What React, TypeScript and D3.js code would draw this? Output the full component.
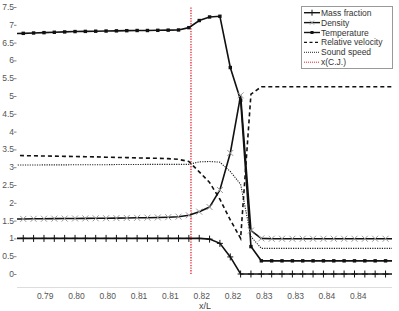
import { useEffect, useRef } from 'react';
import * as d3 from 'd3';

// grid positions along the tube (x/L)
const xs = [
  0.78485, 0.7865, 0.78815, 0.78981, 0.79146, 0.79311, 0.79477, 0.79642, 0.79807, 0.79973,
  0.80138, 0.80303, 0.80469, 0.80634, 0.80799, 0.80965, 0.8113, 0.81295, 0.81461, 0.81626,
  0.81791, 0.81957, 0.82122, 0.82287, 0.82453, 0.82618, 0.82783, 0.82949, 0.83114, 0.83279,
  0.83445, 0.8361, 0.83775, 0.83941, 0.84106, 0.84271, 0.84437, 0.84602,
];

const massFraction = [
  1, 1, 1, 1, 1, 1, 1, 1, 1, 1, 1, 1, 1, 1, 1, 1, 1, 1, 1,
  0.98, 0.86, 0.48, 0,
  0, 0, 0, 0, 0, 0, 0, 0, 0, 0, 0, 0, 0, 0, 0,
];

const density = [
  1.545, 1.547, 1.55, 1.552, 1.555, 1.557, 1.56, 1.562, 1.565, 1.567, 1.57, 1.574, 1.578,
  1.582, 1.588, 1.596, 1.61,
  1.65, 1.75, 1.88, 2.36, 3.4, 5.02, 1.22, 1.0,
  0.99, 0.99, 0.99, 0.99, 0.99, 0.99, 0.99, 0.99, 0.99, 0.99, 0.99, 0.99, 0.99,
];

const temperature = [
  6.75, 6.76, 6.77, 6.78, 6.79, 6.8, 6.81, 6.815, 6.82, 6.825, 6.83, 6.835, 6.84, 6.84,
  6.845, 6.85, 6.855,
  6.92, 7.12, 7.22, 7.24, 5.8, 4.88, 0.77, 0.37,
  0.37, 0.37, 0.37, 0.37, 0.37, 0.37, 0.37, 0.37, 0.37, 0.37, 0.37, 0.37, 0.37,
];

const relativeVelocity = [
  3.33, 3.325, 3.32, 3.315, 3.31, 3.305, 3.3, 3.295, 3.29, 3.28, 3.275, 3.27, 3.26, 3.255,
  3.25, 3.24, 3.22,
  3.16, 2.87, 2.57, 2.1, 1.52, 1.0, 5.05, 5.26,
  5.26, 5.26, 5.26, 5.26, 5.26, 5.26, 5.26, 5.26, 5.26, 5.26, 5.26, 5.26, 5.26,
];

const soundSpeed = [
  3.06, 3.06, 3.06, 3.065, 3.065, 3.065, 3.07, 3.07, 3.07, 3.07, 3.075, 3.075, 3.075, 3.08,
  3.08, 3.08, 3.08,
  3.08, 3.15, 3.16, 3.14, 2.88, 2.52, 1.05, 0.72,
  0.72, 0.72, 0.72, 0.72, 0.72, 0.72, 0.72, 0.72, 0.72, 0.72, 0.72, 0.72, 0.72,
];

const cjX = [0.81329, 0.81329];
const cjY = [0, 7.5];

const xTickValues = [0.79, 0.795, 0.8, 0.805, 0.81, 0.815, 0.82, 0.825, 0.83, 0.835, 0.84];
const xTickLabels = ['0.79', '0.80', '0.80', '0.81', '0.81', '0.82', '0.82', '0.83', '0.83', '0.84', '0.84'];
const yTickValues = [0, 0.5, 1, 1.5, 2, 2.5, 3, 3.5, 4, 4.5, 5, 5.5, 6, 6.5, 7, 7.5];

const legendNames = ['Mass fraction', 'Density', 'Temperature', 'Relative velocity', 'Sound speed', 'x(C.J.)'];

const FONT = 'Liberation Sans, Arial, sans-serif';

export default function App() {
  const svgRef = useRef<SVGSVGElement>(null);

  useEffect(() => {
    if (!svgRef.current) return;
    const svg = d3.select(svgRef.current);
    svg.selectAll('*').remove();

    const x = d3.scaleLinear().domain([0.7855, 0.8454]).range([17, 392]);
    const y = d3.scaleLinear().domain([0, 7.5]).range([274, 7]);

    svg.append('rect').attr('width', 399).attr('height', 311).attr('fill', '#fff');

    svg.append('clipPath').attr('id', 'plot-clip')
      .append('rect').attr('x', 17).attr('y', 0).attr('width', 375).attr('height', 290);

    // x axis
    const xAxis = svg.append('g').attr('transform', 'translate(0,287.5)');
    xAxis.append('line').attr('x1', 17).attr('x2', 392).attr('stroke', '#ddd');
    xTickValues.forEach((v, i) => {
      xAxis.append('line').attr('x1', x(v)).attr('x2', x(v)).attr('y1', 4).attr('y2', 6).attr('stroke', '#aaa');
      xAxis.append('text').attr('x', x(v)).attr('y', 11.5).attr('text-anchor', 'middle')
        .attr('font-family', FONT).attr('font-size', 8.5).attr('fill', '#555').text(xTickLabels[i]);
    });
    svg.append('text').attr('x', 205).attr('y', 309).attr('text-anchor', 'middle')
      .attr('font-family', FONT).attr('font-size', 9).attr('fill', '#444').text('x/L');

    // y axis labels
    const yAxis = svg.append('g');
    yTickValues.forEach(v => {
      yAxis.append('text').attr('x', 14).attr('y', y(v) + 3).attr('text-anchor', 'end')
        .attr('font-family', FONT).attr('font-size', 8.5).attr('fill', '#555').text(String(v));
      yAxis.append('line').attr('x1', 14).attr('x2', 16.5).attr('y1', y(v) + 0.5).attr('y2', y(v) + 0.5)
        .attr('stroke', '#888');
    });

    const plot = svg.append('g').attr('clip-path', 'url(#plot-clip)');
    const line = (vals: number[]) =>
      d3.line<number>().x((_, i) => x(xs[i])).y(d => y(d))(vals);

    // C.J. position
    plot.append('path')
      .attr('d', d3.line<number>().x((_, i) => x(cjX[i])).y(d => y(d))(cjY))
      .attr('fill', 'none').attr('stroke', '#e8202a').attr('stroke-width', 1.3).attr('stroke-dasharray', '1.3,1.3');

    plot.append('path').attr('d', line(soundSpeed)).attr('fill', 'none')
      .attr('stroke', '#222').attr('stroke-width', 1.1).attr('stroke-dasharray', '1.2,1.2');
    plot.append('path').attr('d', line(relativeVelocity)).attr('fill', 'none')
      .attr('stroke', '#111').attr('stroke-width', 1.6).attr('stroke-dasharray', '4,3');

    plot.append('path').attr('d', line(massFraction)).attr('fill', 'none')
      .attr('stroke', '#111').attr('stroke-width', 1.6);
    plot.append('path').attr('d', line(density)).attr('fill', 'none')
      .attr('stroke', '#111').attr('stroke-width', 1.6);
    plot.append('path').attr('d', line(temperature)).attr('fill', 'none')
      .attr('stroke', '#111').attr('stroke-width', 1.6);

    // markers
    massFraction.forEach((d, i) => {
      const cx = x(xs[i]), cy = y(d);
      plot.append('path').attr('d', `M${cx - 3},${cy}H${cx + 3}M${cx},${cy - 3.5}V${cy + 3.5}`)
        .attr('stroke', '#111').attr('stroke-width', 1);
    });
    density.forEach((d, i) => {
      const cx = x(xs[i]), cy = y(d);
      plot.append('path').attr('d', `M${cx - 3},${cy - 3}L${cx + 3},${cy + 3}M${cx - 3},${cy + 3}L${cx + 3},${cy - 3}`)
        .attr('stroke', '#999').attr('stroke-width', 1);
    });
    temperature.forEach((d, i) => {
      plot.append('rect').attr('x', x(xs[i]) - 1.7).attr('y', y(d) - 1.7)
        .attr('width', 3.4).attr('height', 3.4).attr('fill', '#111');
    });

    // legend
    const lg = svg.append('g');
    lg.append('rect').attr('x', 301.5).attr('y', 6.5).attr('width', 91).attr('height', 62)
      .attr('fill', '#fff').attr('stroke', '#999');
    legendNames.forEach((name, i) => {
      const ly = 12.7 + i * 9.9;
      const row = lg.append('g');
      const sample = row.append('line').attr('x1', 304).attr('x2', 320).attr('y1', ly).attr('y2', ly);
      if (i < 3) sample.attr('stroke', '#111').attr('stroke-width', 1.4);
      if (i === 0) row.append('path').attr('d', `M312,${ly - 3}V${ly + 3}`).attr('stroke', '#111');
      if (i === 1) row.append('path').attr('d', `M310,${ly - 2}L314,${ly + 2}M310,${ly + 2}L314,${ly - 2}`).attr('stroke', '#999');
      if (i === 2) row.append('rect').attr('x', 310.5).attr('y', ly - 1.5).attr('width', 3).attr('height', 3).attr('fill', '#111');
      if (i === 3) sample.attr('stroke', '#111').attr('stroke-width', 1.4).attr('stroke-dasharray', '3,2.5');
      if (i === 4) sample.attr('stroke', '#222').attr('stroke-width', 1).attr('stroke-dasharray', '1,1');
      if (i === 5) sample.attr('stroke', '#e8202a').attr('stroke-width', 1).attr('stroke-dasharray', '1,1');
      row.append('text').attr('x', 321).attr('y', ly + 3).attr('font-family', FONT)
        .attr('font-size', 8.5).attr('fill', '#333').text(name);
    });
  }, []);

  return (
    <svg ref={svgRef} width={399} height={311} style={{ position: 'absolute', left: 0, top: 0 }} />
  );
}
